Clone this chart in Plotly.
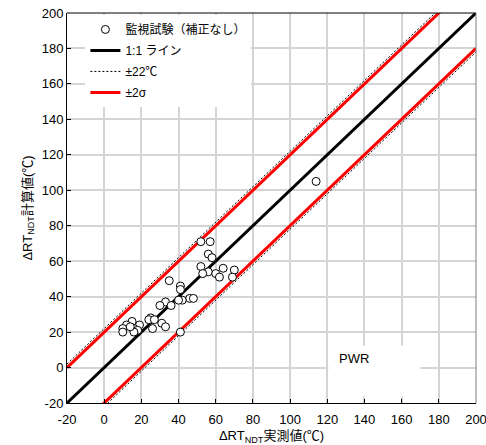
import plotly.graph_objects as go

# data
measured = [114, 52, 57, 56, 58, 52, 64, 56, 53, 60, 70, 62, 69, 35, 41, 41, 46, 48, 42, 40,
            33, 30, 36, 25, 24, 27, 31, 33, 26, 41, 15, 12, 10, 19, 16, 10, 18, 16, 14]
calculated = [105, 71, 71, 64, 62, 57, 56, 54, 53, 53, 55, 51, 51, 49, 46, 44, 39, 39, 38, 38,
              37, 35, 35, 28, 27, 27, 25, 23, 22, 20, 26, 24, 22, 24, 22, 20, 21, 20, 23]
line_x = [-20, 200]
offset_11 = 0
offset_22 = 22
offset_2s = 20
ticks = list(range(-20, 201, 20))
tick_labels = [str(t) for t in ticks]

FONT = "Liberation Sans, Arial, Noto Sans CJK JP"

fig = go.Figure()
fig.add_trace(go.Scatter(x=line_x, y=[v + offset_11 for v in line_x], mode="lines",
                         name="1:1 ライン", legendrank=2, legendgroup="b",
                         line=dict(color="black", width=3)))
fig.add_trace(go.Scatter(x=line_x, y=[v + offset_22 for v in line_x], mode="lines",
                         name="±22℃", legendrank=3, legendgroup="c",
                         line=dict(color="black", width=1, dash="2px,2px")))
fig.add_trace(go.Scatter(x=line_x, y=[v - offset_22 for v in line_x], mode="lines",
                         showlegend=False, legendgroup="c",
                         line=dict(color="black", width=1, dash="2px,2px")))
fig.add_trace(go.Scatter(x=line_x, y=[v + offset_2s for v in line_x], mode="lines",
                         name="±2σ", legendrank=4, legendgroup="d",
                         line=dict(color="#ff0000", width=3)))
fig.add_trace(go.Scatter(x=line_x, y=[v - offset_2s for v in line_x], mode="lines",
                         showlegend=False, legendgroup="d",
                         line=dict(color="#ff0000", width=3)))
fig.add_trace(go.Scatter(x=measured, y=calculated, mode="markers", name="監視試験（補正なし）",
                         legendrank=1, legendgroup="a",
                         marker=dict(symbol="circle", size=8, color="white",
                                     line=dict(color="black", width=1))))

axis_common = dict(range=[-20, 200], tickvals=ticks, ticktext=tick_labels, showgrid=True,
                   gridcolor="#d4d4d4", gridwidth=1.5, zeroline=False, showline=True,
                   linecolor="black", linewidth=1, ticks="inside", ticklen=4, tickcolor="black",
                   ticklabeloverflow="allow", automargin=False,
                   tickfont=dict(family=FONT, size=13, color="black"))

fig.update_layout(
    width=486, height=445,
    margin=dict(l=67, r=10, t=13, b=42, autoexpand=False),
    paper_bgcolor="white", plot_bgcolor="white",
    font=dict(family=FONT, color="black"),
    xaxis=dict(**axis_common, mirror=False, ticklabelstandoff=4,
               title=dict(text="ΔRT<sub>NDT</sub>実測値(℃)", font=dict(family=FONT, size=13),
                          standoff=7)),
    yaxis=dict(**axis_common, mirror=False,
               title=dict(text="ΔRT<sub>NDT</sub>計算値(℃)", font=dict(family=FONT, size=13),
                          standoff=6)),
    legend=dict(x=0.045, y=0.995, xanchor="left", yanchor="top", bgcolor="white",
                borderwidth=0, font=dict(family=FONT, size=12), tracegroupgap=2,
                traceorder="grouped"),
    showlegend=True,
)

# frame lines (top black, right gray)
fig.add_shape(type="line", xref="paper", yref="paper", x0=0, x1=1, y0=1, y1=1,
              line=dict(color="black", width=1))
fig.add_shape(type="line", xref="paper", yref="paper", x0=1, x1=1, y0=0, y1=1,
              line=dict(color="#808080", width=1))
# white box behind PWR label
fig.add_annotation(text=" ", xref="paper", yref="paper", x=0.638, y=0.149, xanchor="left",
                   yanchor="top", width=91, height=50, bgcolor="white", borderpad=0,
                   showarrow=False)
fig.add_annotation(text="PWR", xref="paper", yref="paper", x=0.66, y=0.115, xanchor="left",
                   yanchor="middle", showarrow=False,
                   font=dict(family=FONT, size=13, color="black"))

fig.write_html("out.html")
